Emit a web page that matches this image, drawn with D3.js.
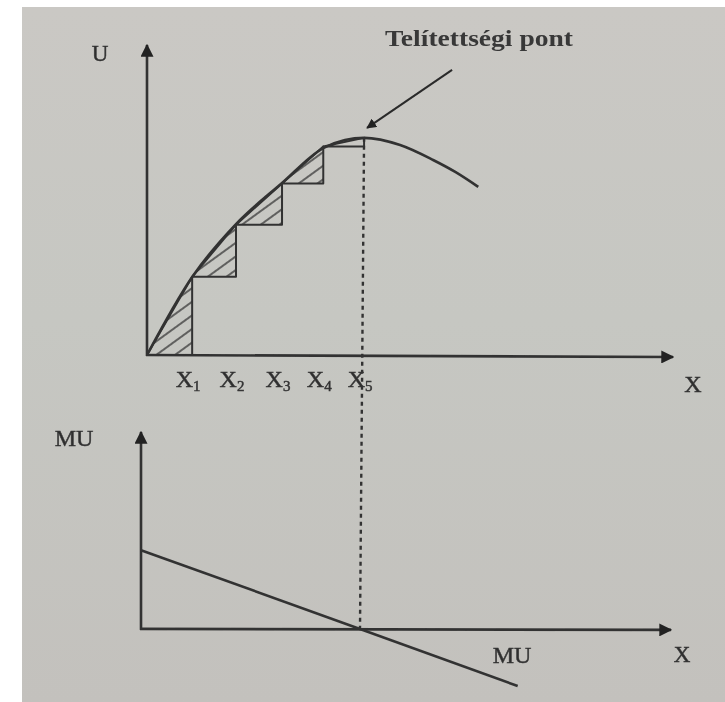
<!DOCTYPE html>
<html>
<head>
<meta charset="utf-8">
<script src="https://cdn.jsdelivr.net/npm/d3@7"></script>
<style>
  html, body { margin: 0; padding: 0; background: #fff; }
  svg { display: block; }
  text { font-family: "Liberation Serif", "DejaVu Serif", serif; fill: #2f2f2f; stroke: #3a3a3a; stroke-width: 0.5px; }
</style>
</head>
<body>
<div id="chart"></div>
<script>
// total utility curve U(x)
var curveX = [0, 1.04, 2.05, 3.11, 4.06, 4.56, 5.0, 5.83, 6.59, 7.1, 7.63],
    curveU = [0, 3.59, 6.03, 7.92, 9.53, 9.9, 10.0, 9.67, 8.98, 8.43, 7.74];

// the consumption steps X1..X5 and their utility level
var stepX = [1.04, 2.05, 3.11, 4.06, 5.0],
    stepU = [3.6, 6.0, 7.9, 9.6, 10.0],
    stepLabels = ["1", "2", "3", "4", "5"];

// marginal utility line MU(x)
var muX = [0, 5.0, 8.6],
    muY = [4.0, 0, -2.9];

var satX = 5.0, satU = 10.0;

var width = 725,
    height = 702,
    ink = "#333";

var svg = d3.select("#chart").append("svg")
    .attr("width", width)
    .attr("height", height);

var defs = svg.append("defs");

var grad = defs.append("linearGradient")
    .attr("id", "paper")
    .attr("x1", 0).attr("y1", 0).attr("x2", 0).attr("y2", 1);
grad.append("stop").attr("offset", "0%").attr("stop-color", "#cac8c4");
grad.append("stop").attr("offset", "45%").attr("stop-color", "#c6c7c2");
grad.append("stop").attr("offset", "100%").attr("stop-color", "#c3c1bd");

// photo softness
defs.append("filter")
    .attr("id", "soft")
    .append("feGaussianBlur")
    .attr("stdDeviation", 0.6);

var hatch = defs.append("pattern")
    .attr("id", "hatch")
    .attr("patternUnits", "userSpaceOnUse")
    .attr("width", 12)
    .attr("height", 11)
    .attr("patternTransform", "rotate(-36)");
hatch.append("line")
    .attr("x1", 0).attr("y1", 5).attr("x2", 12).attr("y2", 5)
    .attr("stroke", ink)
    .attr("stroke-width", 1.4);

defs.append("marker")
    .attr("id", "head")
    .attr("viewBox", "0 0 10 10")
    .attr("refX", 9).attr("refY", 5)
    .attr("markerWidth", 5).attr("markerHeight", 5)
    .attr("markerUnits", "strokeWidth")
    .attr("orient", "auto")
    .append("path")
    .attr("d", "M0,0 L10,5 L0,10 Z")
    .attr("fill", "#222");

// paper of the photo
svg.append("rect")
    .attr("x", 22).attr("y", 7)
    .attr("width", width - 22).attr("height", height - 7)
    .attr("fill", "url(#paper)");

var g = svg.append("g").attr("filter", "url(#soft)");

// scales (upper and lower panel, the photo is a little tilted)
var x = d3.scaleLinear().domain([0, 12]).range([147, 668]),
    y = d3.scaleLinear().domain([0, 14]).range([355, 51]),
    x2 = d3.scaleLinear().domain([0, 12]).range([141, 666.6]),
    y2 = d3.scaleLinear().domain([-3, 10]).range([688, 432]);

function arrowAxis(x1, y1, x2_, y2_) {
    g.append("line")
        .attr("x1", x1).attr("y1", y1)
        .attr("x2", x2_).attr("y2", y2_)
        .attr("stroke", ink)
        .attr("stroke-width", 2.6)
        .attr("marker-end", "url(#head)");
}

// ---- upper panel: total utility ----
var tri = g.append("g");
stepX.forEach(function (sx, i) {
    var px = i === 0 ? 0 : stepX[i - 1],
        pu = i === 0 ? 0 : stepU[i - 1];
    var pts = [[x(px), y(pu)], [x(sx), y(pu)], [x(sx), y(stepU[i])]];
    tri.append("path")
        .attr("d", "M" + pts.join("L") + "Z")
        .attr("fill", i < 4 ? "url(#hatch)" : "none")
        .attr("stroke", ink)
        .attr("stroke-width", 2)
        .attr("stroke-linejoin", "round");
});

var line = d3.line()
    .x(function (d) { return x(d[0]); })
    .y(function (d) { return y(d[1]); })
    .curve(d3.curveMonotoneX);

g.append("path")
    .datum(d3.zip(curveX, curveU))
    .attr("d", line)
    .attr("fill", "none")
    .attr("stroke", ink)
    .attr("stroke-width", 2.6);

arrowAxis(x(0), y(0) + 1, x(0), 45);
arrowAxis(x(0) - 1, y(0), 673, y(0) + 2);

g.append("text").attr("x", 100).attr("y", 61)
    .attr("text-anchor", "middle").style("font-size", "23px").text("U");
g.append("text").attr("x", 693).attr("y", 392)
    .attr("text-anchor", "middle").style("font-size", "24px").text("X");

var tl = g.append("g").selectAll("text")
    .data(stepX)
    .enter().append("text")
    .attr("x", function (d) { return x(d) - 4; })
    .attr("y", 387)
    .attr("text-anchor", "middle")
    .style("font-size", "24px");
tl.append("tspan").text("X");
tl.append("tspan")
    .attr("dy", 4)
    .style("font-size", "15px")
    .text(function (d, i) { return stepLabels[i]; });

// saturation point
g.append("line")
    .attr("x1", x(satX) + 88).attr("y1", y(satU) - 68)
    .attr("x2", x(satX) + 3).attr("y2", y(satU) - 10)
    .attr("stroke", "#2a2a2a")
    .attr("stroke-width", 2)
    .attr("marker-end", "url(#head)");

g.append("text")
    .attr("x", 385).attr("y", 46)
    .attr("textLength", 188)
    .attr("lengthAdjust", "spacingAndGlyphs")
    .style("font-size", "23px")
    .style("font-weight", "bold")
    .style("fill", "#383838")
    .style("stroke", "none")
    .text("Telítettségi pont");

// dotted line down to the MU panel
g.append("line")
    .attr("x1", x(satX)).attr("y1", y(satU))
    .attr("x2", x2(satX)).attr("y2", y2(0))
    .attr("stroke", ink)
    .attr("stroke-width", 2.4)
    .attr("stroke-dasharray", "4,4");

// ---- lower panel: marginal utility ----
arrowAxis(x2(0), y2(0) + 1, x2(0), 432);
arrowAxis(x2(0) - 1, y2(0), 671, y2(0) + 1);

var muLine = d3.line()
    .x(function (d) { return x2(d[0]); })
    .y(function (d) { return y2(d[1]); });

g.append("path")
    .datum(d3.zip(muX, muY))
    .attr("d", muLine)
    .attr("fill", "none")
    .attr("stroke", ink)
    .attr("stroke-width", 2.6);

g.append("text").attr("x", 74).attr("y", 446)
    .attr("text-anchor", "middle").style("font-size", "24px").text("MU");
g.append("text").attr("x", 512).attr("y", 663)
    .attr("text-anchor", "middle").style("font-size", "24px").text("MU");
g.append("text").attr("x", 682).attr("y", 662)
    .attr("text-anchor", "middle").style("font-size", "23px").text("X");
</script>
</body>
</html>
